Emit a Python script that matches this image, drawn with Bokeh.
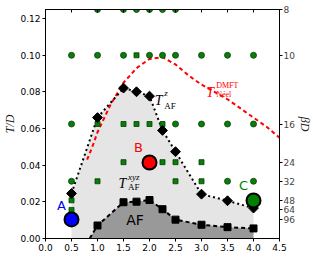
import math
from bokeh.plotting import figure
from bokeh.models import (LinearAxis, FixedTicker, CustomJSTickFormatter, Label, Range1d)
from bokeh.embed import file_html
from bokeh.resources import INLINE

# ---------------- data ----------------
# DMFT Neel temperature (red dashed)
neel_U = [0.8, 0.9, 1.0, 1.25, 1.5, 1.75, 2.0, 2.25, 2.5, 2.75, 3.0, 3.25, 3.5, 3.75, 4.0, 4.25, 4.5]
neel_T = [0.043, 0.050, 0.058, 0.073, 0.085, 0.093, 0.098, 0.099, 0.095, 0.089, 0.084, 0.080, 0.076, 0.071, 0.066, 0.061, 0.055]

# T_AF^z (black diamonds, dotted)
z_U = [0.5, 1.0, 1.5, 1.75, 2.0, 2.25, 2.5, 3.0, 3.5, 4.0]
z_T = [0.0246, 0.066, 0.0821, 0.0801, 0.0777, 0.059, 0.0474, 0.0242, 0.0206, 0.0166]

# T_AF^xyz (black squares, dashed); line starts at U=0.85, T=0
xyz_U = [1.0, 1.5, 1.75, 2.0, 2.25, 2.5, 3.0, 3.5, 4.0]
xyz_T = [0.0071, 0.0198, 0.0201, 0.0210, 0.0160, 0.0103, 0.0075, 0.0062, 0.0055]
xyz_start_U = 0.85
xyz_start_T = 0.0

# simulation points: green circles and green squares
circ_U = [1.0, 1.5, 1.75, 2.0, 2.25, 2.5,
          0.5, 1.0, 1.5, 2.0, 2.25, 2.5, 3.0, 3.5, 4.0,
          0.5, 2.5, 3.0, 3.5, 4.0,
          0.5, 3.5, 4.0]
circ_T = [0.125] * 6 + [0.1] * 9 + [1 / 16] * 5 + [1 / 32] * 3
sq_U = [1.75,
        1.0, 1.5, 1.75, 2.0, 2.25,
        1.5, 2.25, 2.5, 3.0,
        1.0, 2.5, 3.0,
        0.5, 0.5]
sq_T = [0.1] + [1 / 16] * 5 + [1 / 24] * 4 + [1 / 32] * 3 + [1 / 48, 1 / 64]

# highlighted points A, B, C
pts_name = ["A", "B", "C"]
pts_U = [0.5, 2.0, 4.0]
pts_T = [0.0104, 0.0415, 0.0208]
pts_color = ["#0000ff", "#ff0000", "#008000"]

# ticks
x_ticks = [0.0, 0.5, 1.0, 1.5, 2.0, 2.5, 3.0, 3.5, 4.0, 4.5]
y_ticks = [0.00, 0.02, 0.04, 0.06, 0.08, 0.10, 0.12]
beta_ticks = [8, 10, 16, 24, 32, 48, 64, 96]
U_MAX, T_MAX = 4.5, 0.125

# ---------------- figure ----------------
p = figure(frame_width=234, frame_height=229,
           x_range=Range1d(0, U_MAX), y_range=Range1d(0, T_MAX),
           output_backend="svg", toolbar_location=None,
           min_border_left=0, min_border_right=0, min_border_top=9, min_border_bottom=30,
           background_fill_color="white", border_fill_color="white")
p.grid.visible = False
p.outline_line_color = "black"
p.outline_line_width = 1

TICK_FONT = "DejaVu Sans"
SERIF = "Liberation Serif"
title_font = dict(axis_label_text_font=SERIF, axis_label_text_font_style="italic",
                  axis_label_text_font_size="12px", axis_label_text_color="#222222")

p.xaxis.ticker = FixedTicker(ticks=x_ticks)
p.yaxis.ticker = FixedTicker(ticks=y_ticks)
p.xaxis.formatter = CustomJSTickFormatter(code="return tick.toFixed(1)")
p.yaxis.formatter = CustomJSTickFormatter(code="return tick.toFixed(2)")
for ax in (p.xaxis[0], p.yaxis[0]):
    ax.major_label_text_font = TICK_FONT
    ax.major_label_text_font_size = "9px"
    ax.major_label_text_color = "black"
    ax.major_tick_in = 0
    ax.major_tick_out = 3
    ax.minor_tick_line_color = None
    ax.axis_line_color = "black"
    ax.major_label_standoff = 2
p.yaxis.axis_label = "T/D"
p.yaxis.axis_label_standoff = 0
for k, v in title_font.items():
    setattr(p.yaxis[0], k, v)

# top axis: inward ticks, no labels
top = LinearAxis(ticker=FixedTicker(ticks=x_ticks), major_tick_in=3, major_tick_out=0,
                 minor_tick_line_color=None, major_label_text_font_size="1px",
                 major_label_text_color=None, major_label_standoff=0, axis_line_color="black")
p.add_layout(top, "above")

# right axis: beta D
right = LinearAxis(ticker=FixedTicker(ticks=[1 / b for b in beta_ticks]),
                   formatter=CustomJSTickFormatter(code="return String(Math.round(1/tick))"),
                   major_tick_in=0, major_tick_out=3, minor_tick_line_color=None,
                   major_label_text_font=TICK_FONT, major_label_text_font_size="9px",
                   major_label_standoff=1, axis_line_color="black",
                   axis_label="βD", axis_label_standoff=0, **title_font)
try:
    right.axis_label_orientation = "vertical"
except Exception:
    pass
p.add_layout(right, "right")

# x axis title
p.add_layout(Label(x=U_MAX / 2, y=0, y_offset=-20, text="U/D", text_font=SERIF,
                   text_font_style="italic", text_font_size="12px", text_color="#222222",
                   text_align="center", text_baseline="middle"))

# fills
p.varea(x=z_U, y1=0, y2=z_T, fill_color="#e5e5e5")
af_U = [xyz_start_U] + xyz_U
af_T = [xyz_start_T] + xyz_T
p.varea(x=af_U, y1=0, y2=af_T, fill_color="#999999")

# lines
p.line(neel_U, neel_T, line_color="#ff0000", line_width=2, line_dash="4 3")
p.line(z_U, z_T, line_color="black", line_width=2, line_dash="2 3")
p.line(af_U, af_T, line_color="black", line_width=2, line_dash="4 3")

# simulation markers
p.scatter(circ_U, circ_T, marker="circle", size=6, fill_color="#0a7d0a", line_color="#044004", line_width=0.8)
p.scatter(sq_U, sq_T, marker="square", size=5, fill_color="#0a7d0a", line_color="#044004", line_width=0.8)

# transition markers
p.scatter(z_U, z_T, marker="square", angle=math.pi / 4, size=7, fill_color="black", line_color="black")
p.scatter(xyz_U, xyz_T, marker="square", size=7, fill_color="black", line_color="black")

# A, B, C
p.scatter(pts_U, pts_T, marker="circle", size=14, fill_color=pts_color, line_color="black", line_width=2)

# text labels A, B, C, AF
label_offsets = {"A": (-0.195, 0.0075), "B": (-0.21, 0.008), "C": (-0.19, 0.008)}
for name, u, t, c in zip(pts_name, pts_U, pts_T, pts_color):
    dx, dy = label_offsets[name]
    p.add_layout(Label(x=u + dx, y=t + dy, text=name, text_color=c, text_font="DejaVu Sans",
                       text_font_size="13px", text_align="center", text_baseline="middle"))
p.add_layout(Label(x=1.72, y=0.0102, text="AF", text_color="black", text_font="DejaVu Sans",
                   text_font_size="14px", text_align="center", text_baseline="middle"))

sup_style = {"z": "italic", "xyz": "italic", "DMFT": "normal"}


def tlabel(x, y, sup, sub, color, dx, sup_dy, sub_dy, small="8px"):
    p.add_layout(Label(x=x, y=y, text="T", text_color=color, text_font=SERIF,
                       text_font_style="italic", text_font_size="14px", text_baseline="alphabetic"))
    p.add_layout(Label(x=x, y=y, x_offset=dx, y_offset=sup_dy, text=sup, text_color=color,
                       text_font=SERIF, text_font_style=sup_style[sup], text_font_size=small,
                       text_baseline="alphabetic"))
    p.add_layout(Label(x=x, y=y, x_offset=dx, y_offset=sub_dy, text=sub, text_color=color,
                       text_font=SERIF, text_font_size=small, text_baseline="alphabetic"))


tlabel(2.103, 0.0752, "z", "AF", "black", 9.5, 8, -5, small="9px")
tlabel(3.089, 0.0797, "DMFT", "Néel", "#ff0000", 10, 7, -2.5, small="8px")
tlabel(1.405, 0.0301, "xyz", "AF", "black", 9.5, 6, -4, small="9px")

open("out.html", "w").write(file_html(p, INLINE))
